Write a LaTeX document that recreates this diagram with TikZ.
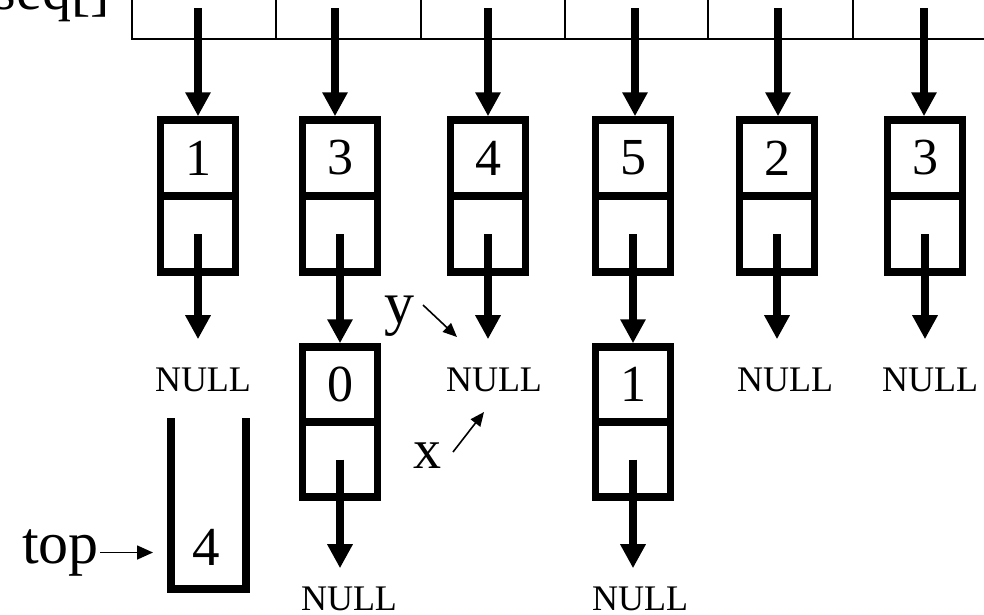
\documentclass[tikz,border=0pt]{standalone}
\usepackage{fontspec}
\setmainfont{Liberation Serif}
\usetikzlibrary{arrows.meta}
\begin{document}
\begin{tikzpicture}[x=1pt,y=-1pt,
  cell/.style={draw, line width=7.5pt, minimum width=75pt, minimum height=76pt, inner sep=0pt, font=\fontsize{52}{52}\selectfont},
  bigarrow/.style={line width=7.5pt, -{Triangle[length=24pt,width=24pt]}},
  thinarrow/.style={line width=1.6pt, -{Triangle[length=14pt,width=12pt]}},
  nulltxt/.style={font=\fontsize{36}{36}\selectfont, inner sep=0pt, anchor=base},
  lbl/.style={font=\fontsize{58}{58}\selectfont, inner sep=0pt},
  arr/.style={line width=2pt}]
\useasboundingbox (0,0) rectangle (984,614);
\clip (0,0) rectangle (984,614);
% array seq[]
\draw[arr] (1100,39) -- (132,39) -- (132,-30);
\foreach \x in {276,421,565,708,853} \draw[arr] (\x,-30) -- (\x,39);
\node[lbl, anchor=base east] (seq) at (110,9) {seq[]};
% first-level list nodes
\foreach \x/\v/\i in {198/1/1,340/3/2,488/4/3,633/5/4,777/2/5,925/3/6} {
  \node[cell] (t\i) at (\x,158) {\v};
  \node[cell] (b\i) at (\x,234) {};
}
% second-level list nodes
\node[cell, minimum height=75pt] (t7) at (340,384.5) {0};
\node[cell, minimum height=75pt] (b7) at (340,459.5) {};
\node[cell, minimum height=75pt] (t8) at (633,384.5) {1};
\node[cell, minimum height=75pt] (b8) at (633,459.5) {};
% NULL labels
\node[nulltxt] (null1) at (203,391) {NULL};
\node[nulltxt] (null3) at (494,391) {NULL};
\node[nulltxt] (null5) at (785,391) {NULL};
\node[nulltxt] (null6) at (930,391) {NULL};
\node[nulltxt] (null7) at (349,610) {NULL};
\node[nulltxt] (null8) at (640,610) {NULL};
% arrows from array
\foreach \x/\n in {198/t1,335/t2,488/t3,635/t4,778/t5,924/t6} {
  \coordinate (a\n) at (\x,8);
  \draw[bigarrow] (a\n) -- (a\n |- \n.north);
}
% link arrows
\draw[bigarrow] (b2.center) -- (t7.north);
\draw[bigarrow] (b4.center) -- (t8.north);
\foreach \b/\n in {b1/null1,b3/null3,b5/null5,b6/null6} {
  \draw[bigarrow, shorten >=28pt] (\b.center) -- (\b.center |- \n.north);
}
\foreach \b/\n in {b7/null7,b8/null8} {
  \draw[bigarrow, shorten >=18pt] (\b.center) -- (\b.center |- \n.north);
}
% stack
\draw[line width=8pt, line join=miter] (171,418) -- (171,589) -- (246,589) -- (246,418);
\node[lbl, font=\fontsize{55}{55}\selectfont] (s4) at (206,547) {4};
\node[lbl, font=\fontsize{60}{60}\selectfont, anchor=base east] (toplbl) at (99,563) {top};
\coordinate (stk) at (153,553);
\draw[line width=1.6pt, -{Triangle[length=16pt,width=14pt]}, shorten <=1pt] (toplbl.east) -- (toplbl.east -| stk);
% x and y pointers
\node[lbl, font=\fontsize{60}{60}\selectfont, anchor=base] (ylbl) at (399,323) {y};
\coordinate (ys) at (423,305);
\coordinate (ye) at (457,337);
\draw[thinarrow] (ys) -- (ye);
\node[lbl, font=\fontsize{56}{56}\selectfont, anchor=base] (xlbl) at (427,468) {x};
\coordinate (xs) at (453,452);
\coordinate (xe) at (484,412);
\draw[thinarrow] (xs) -- (xe);
\end{tikzpicture}
\end{document}
